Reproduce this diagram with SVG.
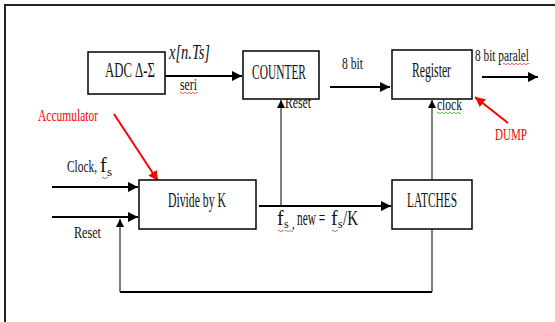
<svg xmlns="http://www.w3.org/2000/svg" width="555" height="322" viewBox="0 0 555 322">
<style>
.box{fill:#fff;stroke:#000;stroke-width:1.5}
.t{font-family:"Liberation Serif","Times New Roman",serif;font-size:20px;fill:#111}
.ts{font-family:"Liberation Serif","Times New Roman",serif;font-size:17px;fill:#111}
.red{fill:#f00}
.w{stroke:#000;stroke-width:2;fill:none}
.n{stroke:#000;stroke-width:1;fill:none}
.ra{stroke:#f00;stroke-width:2;fill:none}
.sq{fill:none;stroke-width:0.8}
</style>
<defs>
<marker id="ah" viewBox="0 0 10 10" refX="10" refY="5" markerWidth="10" markerHeight="10" markerUnits="userSpaceOnUse" orient="auto"><path d="M0,0 L10,5 L0,10 z" fill="#000"/></marker>
<marker id="ahs" viewBox="0 0 10 10" refX="10" refY="5" markerWidth="8" markerHeight="8" markerUnits="userSpaceOnUse" orient="auto"><path d="M0,0 L10,5 L0,10 z" fill="#000"/></marker>
<marker id="ahr" viewBox="0 0 10 10" refX="10" refY="5" markerWidth="10" markerHeight="10" markerUnits="userSpaceOnUse" orient="auto"><path d="M0,0 L10,5 L0,10 z" fill="#f00"/></marker>
</defs>
<rect width="555" height="322" fill="#fff"/>
<path d="M5,322 V5 H555" fill="none" stroke="#222" stroke-width="2"/>

<g id="connectors">
<line class="w" x1="165" y1="76" x2="242" y2="76" marker-end="url(#ah)"/>
<line class="w" x1="330" y1="87" x2="390" y2="87" marker-end="url(#ah)"/>
<line class="w" x1="482" y1="77" x2="538" y2="77" marker-end="url(#ah)"/>
<line class="w" x1="52" y1="187" x2="138" y2="187" marker-end="url(#ah)"/>
<line class="w" x1="52" y1="217" x2="138" y2="217" marker-end="url(#ah)"/>
<line class="w" x1="259" y1="206" x2="391" y2="206" marker-end="url(#ah)"/>
<line class="n" x1="281" y1="206" x2="281" y2="100" marker-end="url(#ahs)"/>
<line class="n" x1="432" y1="180" x2="432" y2="100" marker-end="url(#ahs)"/>
<path class="n" d="M432,229 V292"/>
<path d="M432,292 H120" stroke="#000" stroke-width="2" fill="none"/>
<line class="n" x1="120" y1="292" x2="120" y2="219" marker-end="url(#ahs)"/>
<line class="ra" x1="114" y1="114" x2="158" y2="181" marker-end="url(#ahr)"/>
<line class="ra" x1="508" y1="123" x2="475" y2="97" marker-end="url(#ahr)"/>
</g>

<text class="ts" x="285" y="108" textLength="26" lengthAdjust="spacingAndGlyphs">Reset</text>
<text class="ts" x="437" y="110" textLength="25" lengthAdjust="spacingAndGlyphs">clock</text>

<g id="adc"><rect class="box" x="88" y="52" width="77" height="42"/>
<text class="t" x="105" y="77" textLength="50" lengthAdjust="spacingAndGlyphs">ADC Δ-Σ</text></g>
<g id="counter"><rect class="box" x="243" y="51" width="76" height="48"/>
<text class="t" x="252" y="79" textLength="54" lengthAdjust="spacingAndGlyphs">COUNTER</text></g>
<g id="register"><rect class="box" x="392" y="50" width="80" height="49"/>
<text class="t" x="412" y="77" textLength="39" lengthAdjust="spacingAndGlyphs">Register</text></g>
<g id="divide"><rect class="box" x="139" y="180" width="117" height="49"/>
<text class="t" x="168" y="207" textLength="58" lengthAdjust="spacingAndGlyphs">Divide by K</text></g>
<g id="latches"><rect class="box" x="392" y="180" width="80" height="49"/>
<text class="t" x="407" y="207" textLength="50" lengthAdjust="spacingAndGlyphs">LATCHES</text></g>

<g id="labels">
<text class="t" x="169" y="59" font-style="italic" textLength="41" lengthAdjust="spacingAndGlyphs">x[n.Ts]</text>
<text class="ts" x="180" y="90" textLength="17" lengthAdjust="spacingAndGlyphs">seri</text>
<text class="ts" x="342" y="69" textLength="21" lengthAdjust="spacingAndGlyphs">8 bit</text>
<text class="ts" x="475" y="61" textLength="54" lengthAdjust="spacingAndGlyphs">8 bit paralel</text>
<text class="ts red" x="38" y="121" textLength="60" lengthAdjust="spacingAndGlyphs">Accumulator</text>
<text class="ts red" x="495" y="140" textLength="32" lengthAdjust="spacingAndGlyphs">DUMP</text>
<text class="ts" y="172"><tspan x="67" textLength="30" lengthAdjust="spacingAndGlyphs">Clock,</tspan><tspan x="100" font-size="20">f</tspan><tspan x="107" font-size="13" dy="4">s</tspan></text>
<text class="ts" x="74" y="238" textLength="27" lengthAdjust="spacingAndGlyphs">Reset</text>
<text class="t" y="225"><tspan x="277">f</tspan><tspan x="284" font-size="12" dy="3">s ,</tspan><tspan x="297" dy="-3" textLength="28" lengthAdjust="spacingAndGlyphs">new =</tspan><tspan x="331">f</tspan><tspan x="338" font-size="12" dy="3">s</tspan><tspan x="343" dy="-3" textLength="15" lengthAdjust="spacingAndGlyphs">/K</tspan></text>
</g>

<g id="squiggles" class="sq">
<path d="M180,93 q1,-1.5 2,0 t2,0 t2,0 t2,0 t2,0 t2,0 t2,0 t2,0 t2,0" stroke="#e33"/>
<path d="M503,64 q1,-1.5 2,0 t2,0 t2,0 t2,0 t2,0 t2,0 t2,0 t2,0 t2,0 t2,0 t2,0 t2,0 t2,0" stroke="#e33"/>
<path d="M437,113 q1,-1.5 2,0 t2,0 t2,0 t2,0 t2,0 t2,0 t2,0 t2,0 t2,0 t2,0 t2,0 t2,0" stroke="#3a3"/>
<path d="M102,178 q1,-1.5 2,0 t2,0 t2,0" stroke="#e33"/>
<path d="M278,231 q1,-1.5 2,0 t2,0 t2,0" stroke="#e33"/>
<path d="M285,231 q1,-1.5 2,0 t2,0 t2,0 t2,0" stroke="#3a3"/>
<path d="M332,231 q1,-1.5 2,0 t2,0 t2,0" stroke="#e33"/>
</g>
</svg>
